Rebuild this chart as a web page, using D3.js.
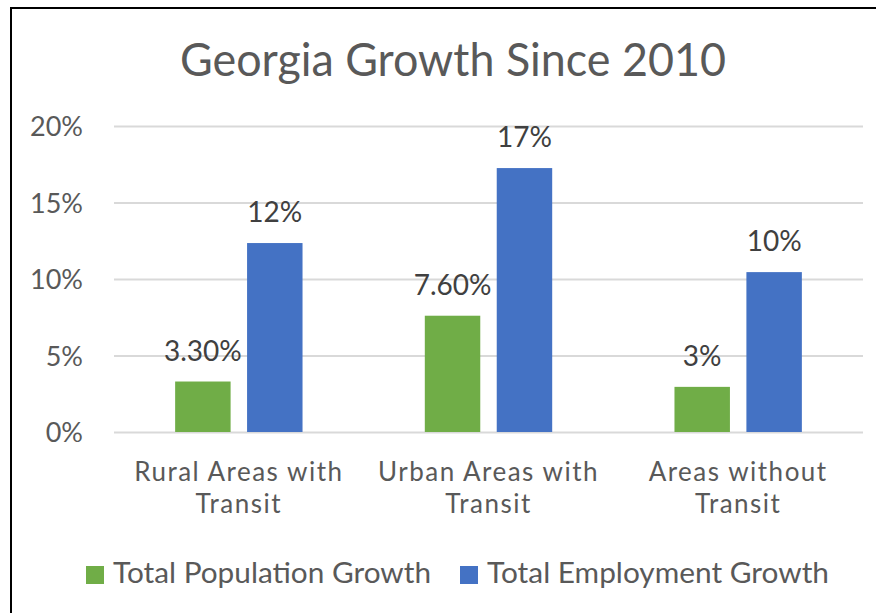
<meta charset="utf-8">
<style>
  body { margin: 0; background: #fff; }
  text { font-family: Lato, "Open Sans", sans-serif; }
</style>
<body>
<script src="https://d3js.org/d3.v7.min.js"></script>
<script>
  // chart data
  const categories = [["Rural Areas with", "Transit"], ["Urban Areas with", "Transit"], ["Areas without", "Transit"]];
  const series = ["Total Population Growth", "Total Employment Growth"];
  const colors = ["#70AD47", "#4472C4"];
  const population = [0.033, 0.076, 0.0295];
  const employment = [0.1235, 0.1725, 0.1045];
  const populationLabels = ["3.30%", "7.60%", "3%"];
  const employmentLabels = ["12%", "17%", "10%"];
  const yTicks = [0, 0.05, 0.10, 0.15, 0.20];

  const width = 876, height = 613;
  const plot = { left: 114, right: 863, top: 126, bottom: 432 };

  const svg = d3.select("body").append("svg")
    .attr("width", width)
    .attr("height", height);

  // outer chart border (cropped at right / bottom)
  svg.append("rect")
    .attr("x", 11).attr("y", 8)
    .attr("width", 900).attr("height", 700)
    .attr("fill", "none")
    .attr("stroke", "#000")
    .attr("stroke-width", 2);

  svg.append("text")
    .attr("x", 453).attr("y", 76)
    .attr("text-anchor", "middle")
    .attr("font-size", 46)
    .attr("fill", "#595959")
    .attr("textLength", 546)
    .attr("lengthAdjust", "spacingAndGlyphs")
    .text("Georgia Growth Since 2010");

  const x0 = d3.scaleBand()
    .domain(d3.range(categories.length))
    .range([plot.left, plot.right]);

  const x1 = d3.scaleBand()
    .domain(series)
    .range([0, x0.bandwidth()])
    .paddingInner(0.229)
    .paddingOuter(0.85);

  const y = d3.scaleLinear()
    .domain([0, 0.2])
    .range([plot.bottom, plot.top]);

  // gridlines + y labels
  const yAxis = svg.append("g")
    .attr("transform", `translate(${plot.left},0)`)
    .call(d3.axisLeft(y).tickValues(yTicks).tickFormat(d3.format(".0%"))
      .tickSize(-(plot.right - plot.left)).tickPadding(31));
  yAxis.select(".domain").remove();
  yAxis.selectAll("line").attr("stroke", "#D9D9D9").attr("stroke-width", 2);
  yAxis.selectAll("text")
    .attr("font-size", 27)
    .attr("fill", "#595959")
    .attr("font-family", "Lato, sans-serif")
    .attr("dy", "0.36em");

  const rows = categories.map((c, i) => [
    { key: series[0], value: population[i], label: populationLabels[i], i: i, color: colors[0] },
    { key: series[1], value: employment[i], label: employmentLabels[i], i: i, color: colors[1] }
  ]);

  const groups = svg.append("g").selectAll("g")
    .data(rows)
    .join("g")
    .attr("transform", (d, i) => `translate(${x0(i)},0)`);

  groups.selectAll("rect")
    .data(d => d)
    .join("rect")
    .attr("x", d => x1(d.key))
    .attr("width", x1.bandwidth())
    .attr("y", d => y(d.value))
    .attr("height", d => y(0) - y(d.value))
    .attr("fill", d => d.color);

  groups.selectAll("text.val")
    .data(d => d)
    .join("text")
    .attr("class", "val")
    .attr("x", d => x1(d.key) + x1.bandwidth() / 2)
    .attr("y", d => y(d.value) - 21)
    .attr("text-anchor", "middle")
    .attr("font-size", 28)
    .attr("fill", "#404040")
    .text(d => d.label);

  // category labels (two lines)
  const cat = svg.append("g").selectAll("text")
    .data(categories)
    .join("text")
    .attr("text-anchor", "middle")
    .attr("font-size", 26)
    .attr("letter-spacing", 1.5)
    .attr("fill", "#595959");
  cat.each(function(lines, i) {
    d3.select(this).selectAll("tspan")
      .data(lines)
      .join("tspan")
      .attr("x", x0(i) + x0.bandwidth() / 2)
      .attr("y", (d, j) => 481 + j * 32)
      .text(d => d);
  });

  // legend
  const legendX = [86, 460];
  const legendW = [318, 342];
  const legend = svg.append("g").selectAll("g")
    .data(series)
    .join("g")
    .attr("transform", (d, i) => `translate(${legendX[i]},566)`);
  legend.append("rect")
    .attr("width", 18).attr("height", 18)
    .attr("fill", (d, i) => colors[i]);
  legend.append("text")
    .attr("x", 27).attr("y", 17)
    .attr("font-size", 29)
    .attr("fill", "#595959")
    .attr("textLength", (d, i) => legendW[i])
    .attr("lengthAdjust", "spacingAndGlyphs")
    .text(d => d);
</script>
</body>
